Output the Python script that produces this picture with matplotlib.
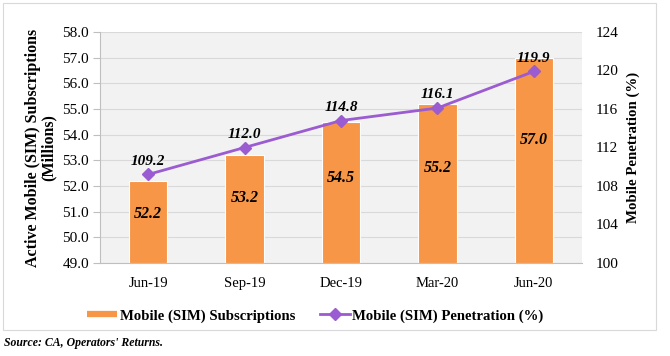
import matplotlib
matplotlib.use("Agg")
import matplotlib.pyplot as plt
from matplotlib.patches import Rectangle
from matplotlib.lines import Line2D
import numpy as np

categories = ["Jun-19", "Sep-19", "Dec-19", "Mar-20", "Jun-20"]
subscriptions = [52.2, 53.2, 54.5, 55.2, 57.0]
penetration = [109.2, 112.0, 114.8, 116.1, 119.9]
left_ticks = [49.0, 50.0, 51.0, 52.0, 53.0, 54.0, 55.0, 56.0, 57.0, 58.0]
right_ticks = [100, 104, 108, 112, 116, 120, 124]

plt.rcParams['font.family'] = ['Liberation Serif', 'DejaVu Serif']

BAR = "#F79646"
LINE = "#9B5BD1"

fig = plt.figure(figsize=(6.7, 3.56), dpi=100)
# outer border
fig.patches.append(Rectangle((3/670, 1-330/356), 653/670, 327/356, transform=fig.transFigure,
                             fill=False, edgecolor="#d9d9d9", linewidth=0.8))

ax = fig.add_axes([100/670, 1-263/356, 482/670, 231/356])
ax.set_facecolor("#f2f2f2")
x = np.arange(len(categories))
base = left_ticks[0]
ax.bar(x, [v - base for v in subscriptions], bottom=base, width=0.4,
       color=BAR, edgecolor="white", linewidth=0.8, zorder=2)
ax.set_ylim(left_ticks[0], left_ticks[-1])
ax.set_yticks(left_ticks)
ax.set_yticklabels([f"{t:.1f}" for t in left_ticks], fontsize=11)
ax.set_xlim(-0.5, len(categories) - 0.5)
ax.set_xticks(x)
ax.set_xticklabels(categories, fontsize=10.5)
ax.tick_params(axis='x', length=0, pad=10)
ax.tick_params(axis='y', length=5, color="#bfbfbf", pad=3)
ax.grid(axis='y', color="#d9d9d9", linewidth=0.8, zorder=0)
ax.set_axisbelow(True)
for s in ["top", "right"]:
    ax.spines[s].set_visible(False)
ax.spines["left"].set_color("#bfbfbf")
ax.spines["bottom"].set_color("#bfbfbf")
ax.set_ylabel("Active Mobile (SIM) Subscriptions\n(Millions)", fontsize=11.5, fontweight='bold',
              labelpad=4, linespacing=1.0)

for xi, v in zip(x, subscriptions):
    ax.text(xi, base + (v - base) * 0.6, f"{v:.1f}", ha='center', va='center', fontsize=11.5,
            fontweight='bold', fontstyle='italic', zorder=3)

ax2 = ax.twinx()
ax2.plot(x, penetration, color=LINE, linewidth=2, marker='D', markersize=6, zorder=4)
ax2.set_ylim(right_ticks[0], right_ticks[-1])
ax2.set_yticks(right_ticks)
ax2.set_yticklabels([str(t) for t in right_ticks], fontsize=11)
ax2.tick_params(axis='y', length=0, pad=9.5)
for s in ["top", "right", "left", "bottom"]:
    ax2.spines[s].set_visible(False)
ax2.set_ylabel("Mobile Penetration (%)", fontsize=10.7, fontweight='bold', labelpad=6)
for xi, v in zip(x, penetration):
    ax2.annotate(f"{v:.1f}", (xi, v), xytext=(0, 5), textcoords='offset points', ha='center',
                 va='bottom', fontsize=11, fontweight='bold', fontstyle='italic')

handles = [Line2D([0], [0], color=BAR, linewidth=4.5, solid_capstyle='butt'),
           Line2D([0], [0], color=LINE, linewidth=2, marker='D', markersize=6)]
fig.legend(handles, ["Mobile (SIM) Subscriptions", "Mobile (SIM) Penetration (%)"],
           loc='center', bbox_to_anchor=(315.5/670, 1-316/356), ncol=2, frameon=False,
           prop={'size': 10.6, 'weight': 'bold'}, handlelength=2.0, handletextpad=0.2,
           columnspacing=1.7)

fig.text(4/670, 1-343/356, "Source: CA, Operators' Returns.", fontsize=8.5, fontweight='bold',
         fontstyle='italic', va='center', ha='left')

fig.savefig("out.png", dpi=100)
